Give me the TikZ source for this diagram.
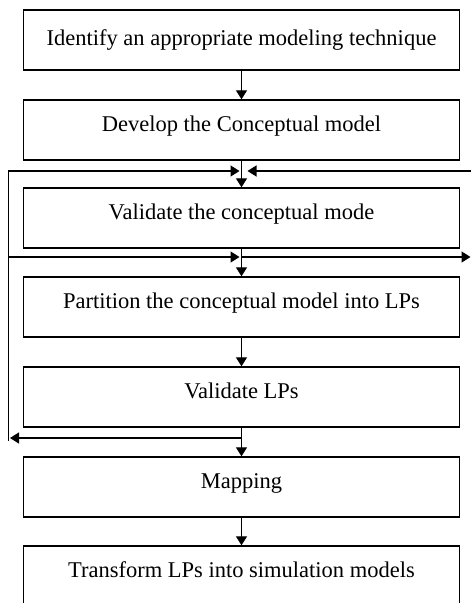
\documentclass[tikz,border=0pt]{standalone}
\usepackage{fontspec}
\setmainfont{Liberation Serif}
\usepackage{tikz}
\usetikzlibrary{arrows.meta, calc}
\tikzset{>={Triangle[length=9pt,width=11pt]}}
\tikzset{stage/.style={draw, line width=1.4pt, minimum width=436pt, minimum height=60pt, inner sep=0pt,
    text height=15pt, text depth=13pt, font=\fontsize{22.5}{27}\selectfont}}

\begin{document}
\begin{tikzpicture}[x=1pt, y=-1pt, line width=1.3pt]
      \useasboundingbox (0,0) rectangle (471,603);
      \node[stage, text depth=5pt] (b1) at (241.5, 40) {Identify an appropriate modeling technique};
      \node[stage] (b2) at (241.5, 130) {Develop the Conceptual model};
      \node[stage] (b3) at (241.5, 218) {Validate the conceptual mode};
      \node[stage] (b4) at (241.5, 307) {Partition the conceptual model into LPs};
      \node[stage] (b5) at (241.5, 397) {Validate LPs};
      \node[stage] (b6) at (241.5, 487) {Mapping};
      \node[stage] (b7) at (241.5, 576) {Transform LPs into simulation models};
      \coordinate (railA) at (8.5, 171);
      \coordinate (railB) at (8.5, 257);
      \coordinate (railC) at (8.5, 438);
      \coordinate (edgeA) at (472, 171);
      \coordinate (edgeB) at (470.5, 257);
      \coordinate (tipA) at (239.5, 171);
      \coordinate (tipA2) at (247.5, 171);
      \coordinate (tipB) at (239.5, 257);
      \draw[->] (b1) -- (b2);
      \draw[->] (b2) -- (b3);
      \draw[->] (b3) -- (b4);
      \draw[->] (b4) -- (b5);
      \draw[->] (b5) -- (b6);
      \draw[->] (b6) -- (b7);
      \draw[->] ($(railC)+(0,3)$) -- (railA) -- (tipA);
      \draw[->] (edgeA) -- (tipA2);
      \draw[->] (railB) -- (tipB);
      \draw[->] (b3.south |- railB) -- (edgeB);
      \draw[->] (b5.south |- railC) -- ($(railC)+(1.5,0)$);
\end{tikzpicture}
\end{document}
